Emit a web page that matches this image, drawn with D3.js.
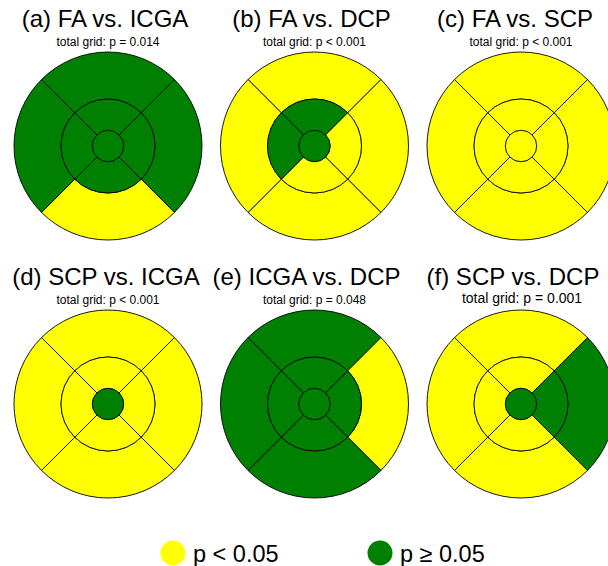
<!DOCTYPE html>
<html lang="en">
<head>
<meta charset="UTF-8" />
<title>ETDRS grid comparisons</title>
<script src="https://d3js.org/d3.v7.min.js"></script>
<style>
    body { margin: 0; background: #fff; }
    text { font-family: "Liberation Sans", Arial, sans-serif; fill: #000; }
</style>
</head>
<body>
<script>
    var w = 608, h = 566;

    // panel titles and subtitles
    var titles = ["(a) FA vs. ICGA", "(b) FA vs. DCP", "(c) FA vs. SCP",
                  "(d) SCP vs. ICGA", "(e) ICGA vs. DCP", "(f) SCP vs. DCP"];
    var subtitles = ["total grid: p = 0.014", "total grid: p < 0.001", "total grid: p < 0.001",
                     "total grid: p < 0.001", "total grid: p = 0.048", "total grid: p = 0.001"];
    // 1 = p < 0.05 (yellow), 0 = p >= 0.05 (green)
    // sector order: superior, right, inferior, left
    var centerSig = [0, 0, 1, 0, 0, 0];
    var innerSig = [
        [0, 0, 0, 0],
        [0, 1, 1, 0],
        [1, 1, 1, 1],
        [1, 1, 1, 1],
        [0, 0, 0, 0],
        [1, 0, 1, 1]
    ];
    var outerSig = [
        [0, 0, 1, 0],
        [1, 1, 1, 1],
        [1, 1, 1, 1],
        [1, 1, 1, 1],
        [0, 1, 0, 0],
        [1, 0, 1, 1]
    ];
    var legendLabels = ["p < 0.05", "p \u2265 0.05"];
    var rings = [1, 3, 6]; // grid diameters in mm

    var svg = d3.select("body").append("svg")
        .attr("width", w)
        .attr("height", h);

    var col = d3.scaleOrdinal().domain([1, 0]).range(["#ffff00", "#008000"]);
    var rScale = d3.scaleLinear().domain([0, 3]).range([0, 94]);
    var xScale = d3.scalePoint().domain([0, 1, 2]).range([108, 521]);
    var yScale = d3.scalePoint().domain([0, 1]).range([146, 404]);
    var sectorAngle = d3.scaleLinear().domain([0, 4]).range([-Math.PI / 4, Math.PI * 7 / 4]);

    titles.forEach(function(t, i) {
        var cx = xScale(i % 3), cy = yScale(Math.floor(i / 3));
        var g = svg.append("g").attr("transform", "translate(" + cx + "," + cy + ")");

        var sectors = [];
        [0, 1, 2, 3].forEach(function(k) {
            sectors.push({r0: rings[1] / 2, r1: rings[2] / 2, k: k, sig: outerSig[i][k]});
            sectors.push({r0: rings[0] / 2, r1: rings[1] / 2, k: k, sig: innerSig[i][k]});
        });
        var arc = d3.arc()
            .innerRadius(function(d) { return rScale(d.r0); })
            .outerRadius(function(d) { return rScale(d.r1); })
            .startAngle(function(d) { return sectorAngle(d.k); })
            .endAngle(function(d) { return sectorAngle(d.k + 1); });

        g.selectAll("path.sector")
            .data(sectors)
            .enter()
            .append("path")
            .attr("class", "sector")
            .attr("d", arc)
            .attr("fill", function(d) { return col(d.sig); })
            .attr("stroke", "#000")
            .attr("stroke-width", 0.9);

        g.append("circle")
            .attr("r", rScale(rings[0] / 2))
            .attr("fill", col(centerSig[i]))
            .attr("stroke", "#000")
            .attr("stroke-width", 0.8);

        // small nudges so titles sit like in the figure
        var titleX = [-3, -3, -6, -2, -8, -8][i];
        g.append("text")
            .attr("x", titleX)
            .attr("y", -119)
            .attr("text-anchor", "middle")
            .style("font-size", "24px")
            .text(t);
        g.append("text")
            .attr("x", i == 5 ? 1 : 0)
            .attr("y", i == 5 ? -101 : -100)
            .attr("text-anchor", "middle")
            .style("font-size", i == 5 ? "14px" : "12px")
            .text(subtitles[i]);
    });

    // legend
    var legX = d3.scalePoint().domain([0, 1]).range([173, 380]);
    var leg = svg.selectAll(".legend")
        .data(legendLabels)
        .enter()
        .append("g")
        .attr("class", "legend")
        .attr("transform", function(d, i) { return "translate(" + legX(i) + ",553)"; });
    leg.append("circle")
        .attr("r", 12.5)
        .attr("fill", function(d, i) { return col(1 - i); });
    leg.append("text")
        .attr("x", 20)
        .attr("y", 8.5)
        .style("font-size", "23.5px")
        .text(function(d) { return d; });
</script>
</body>
</html>
